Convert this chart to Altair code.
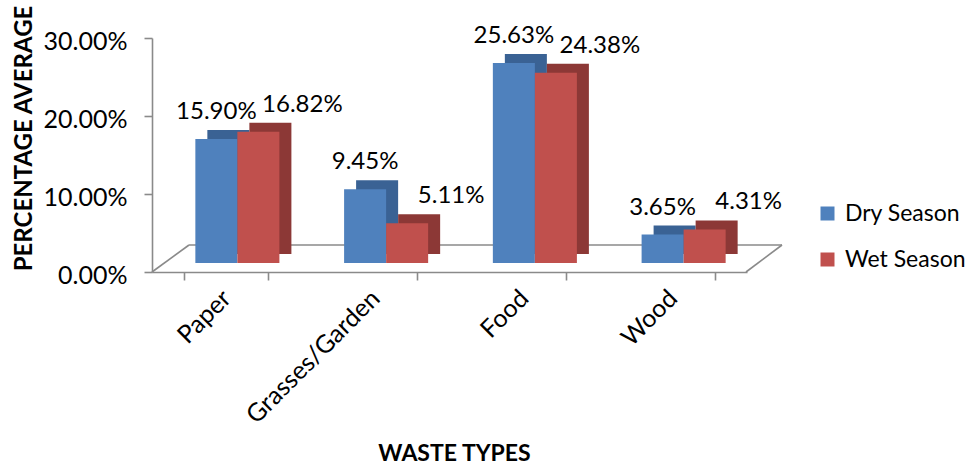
import altair as alt
import pandas as pd

categories = ["Paper", "Grasses/Garden", "Food", "Wood"]
dry_values = [15.90, 9.45, 25.63, 3.65]
wet_values = [16.82, 5.11, 24.38, 4.31]
seasons = ["Dry Season", "Wet Season"]
y_tick_values = [0.0, 0.10, 0.20, 0.30]

rows = []
for c, d, w in zip(categories, dry_values, wet_values):
    rows.append({"Type": c, "Season": seasons[0], "Value": d / 100})
    rows.append({"Type": c, "Season": seasons[1], "Value": w / 100})
df = pd.DataFrame(rows)

FONT = "Lato"
W, H = 595, 234
PI = 0.435
GRAY = "#8a8a8a"
FRONT = ["#4F81BD", "#C0504D"]
BACK = ["#3A6294", "#8C3836"]

xs_axis = alt.Scale(domain=categories, paddingInner=PI, paddingOuter=PI / 2)
xs_front = alt.Scale(domain=categories, range=[11, W + 11], paddingInner=PI, paddingOuter=PI / 2)
xs_back = alt.Scale(domain=categories, range=[23, W + 23], paddingInner=PI, paddingOuter=PI / 2)
xo = alt.Scale(domain=seasons, paddingInner=0, paddingOuter=0)
ys = alt.Scale(domain=[0, 0.30])

base = alt.Chart(df)
one = alt.Chart(pd.DataFrame({"k": [0]}))

# floor outline (decoration)
floor_back = one.mark_rule(color=GRAY, strokeWidth=1.6).encode(
    x=alt.value(37), x2=alt.value(630), y=alt.value(207))
floor_left = one.mark_rule(color=GRAY, strokeWidth=1.6).encode(
    x=alt.value(0), x2=alt.value(37), y=alt.value(H), y2=alt.value(207))
floor_right = one.mark_rule(color=GRAY, strokeWidth=1.6).encode(
    x=alt.value(594), x2=alt.value(630), y=alt.value(H), y2=alt.value(207))

y_axis = alt.Axis(
    values=y_tick_values, format=".2%", title="PERCENTAGE AVERAGE",
    titleFont=FONT, titleFontSize=24, titleFontWeight="bold", titleColor="black",
    titleX=-128, titleY=100, titleAlign="center", titleBaseline="middle",
    labelFont=FONT, labelFontSize=25, labelColor="black", labelPadding=17,
    labelOffset=3,
    tickSize=8, tickColor=GRAY, tickWidth=1.6,
    domainColor=GRAY, domainWidth=1.6, grid=False)

axis_layer = base.mark_point(opacity=0).encode(
    x=alt.X("Type:N", scale=xs_axis, axis=alt.Axis(
        title="WASTE TYPES", titleFont=FONT, titleFontSize=23, titleFontWeight="bold",
        titleColor="black", titleX=302, titleY=188, titleBaseline="alphabetic",
        titleAlign="center",
        labelAngle=315, labelAlign="right", labelBaseline="middle", labelPadding=14,
        labelFont=FONT, labelFontSize=25, labelColor="black",
        tickBand="extent", tickSize=8, tickColor=GRAY, tickWidth=1.6,
        domainColor=GRAY, domainWidth=1.6, grid=False)),
    y=alt.Y("Value:Q", scale=ys, axis=y_axis),
)

back = base.mark_bar(yOffset=-18, y2Offset=-18).encode(
    x=alt.X("Type:N", scale=xs_back, axis=None),
    xOffset=alt.XOffset("Season:N", scale=xo),
    y=alt.Y("Value:Q", scale=ys, axis=y_axis),
    color=alt.condition(alt.datum.Season == seasons[0], alt.value(BACK[0]), alt.value(BACK[1])),
)

front = base.mark_bar(yOffset=-9, y2Offset=-9).encode(
    x=alt.X("Type:N", scale=xs_front, axis=None),
    xOffset=alt.XOffset("Season:N", scale=xo),
    y=alt.Y("Value:Q", scale=ys, axis=y_axis),
    color=alt.Color("Season:N", scale=alt.Scale(domain=seasons, range=FRONT),
                    legend=alt.Legend(title=None, orient="none", legendX=664, legendY=164,
                                      symbolType="square", symbolSize=196, symbolStrokeWidth=0,
                                      labelFont=FONT, labelFontSize=23, labelColor="black",
                                      labelOffset=6, rowPadding=22)),
)

def labels(season, dx):
    return base.transform_filter(alt.datum.Season == season).mark_text(
        yOffset=-29, dx=dx, font=FONT, fontSize=24, color="black", baseline="alphabetic"
    ).encode(
        x=alt.X("Type:N", scale=xs_front, axis=None),
        xOffset=alt.XOffset("Season:N", scale=xo),
        y=alt.Y("Value:Q", scale=ys, axis=y_axis),
        text=alt.Text("Value:Q", format=".2%"),
    )

chart = alt.layer(
    floor_back, floor_left, floor_right, axis_layer, back, front,
    labels(seasons[0], 0), labels(seasons[1], 44),
).resolve_scale(x="independent").properties(
    width=W, height=H,
    padding={"left": 152, "top": 38, "right": 972 - 152 - W, "bottom": 464 - 38 - H},
    autosize=alt.AutoSizeParams(type="none"),
    background="white",
).configure_view(stroke=None)

chart.save("out.html", embed_options={"renderer": "svg", "actions": False})
